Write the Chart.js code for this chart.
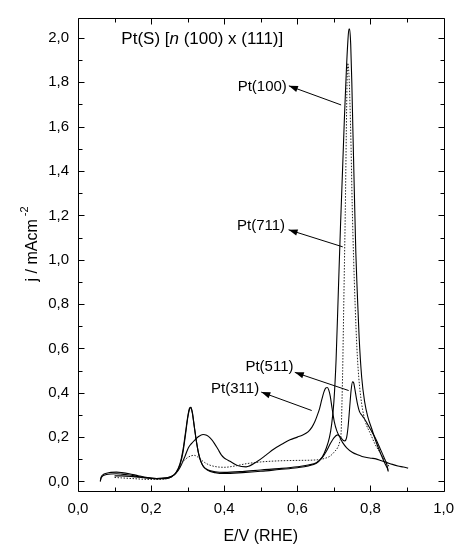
<!DOCTYPE html>
<html>
<head>
<meta charset="utf-8">
<script src="https://cdn.jsdelivr.net/npm/chart.js@4.4.1/dist/chart.umd.min.js"></script>
<style>
html,body{margin:0;padding:0;background:#fff;}
canvas{display:block;}
</style>
</head>
<body>
<canvas id="c" width="463" height="548"></canvas>
<script>
// ---- tick values ----
const xTicks = [0.0, 0.2, 0.4, 0.6, 0.8, 1.0];
const xMinorTicks = [0.1, 0.3, 0.5, 0.7, 0.9];
const yTicks = [0.0, 0.2, 0.4, 0.6, 0.8, 1.0, 1.2, 1.4, 1.6, 1.8, 2.0];
const yMinorTicks = [0.1, 0.3, 0.5, 0.7, 0.9, 1.1, 1.3, 1.5, 1.7, 1.9];

// ---- series: Pt(100) (solid, tallest) ----
const pt100X = [0.061,0.063,0.068,0.078,0.09,0.105,0.12,0.14,0.165,0.19,0.215,0.24,0.255,0.268,0.279,0.287,0.294,0.3,0.305,0.309,0.313,0.318,0.324,0.332,0.342,0.356,0.375,0.4,0.45,0.5,0.55,0.6,0.63,0.652,0.668,0.679,0.688,0.694,0.7,0.706,0.712,0.718,0.724,0.729,0.734,0.738,0.741,0.743,0.746,0.749,0.752,0.756,0.76,0.764,0.769,0.776,0.784,0.793,0.803,0.815,0.828,0.84,0.846,0.849];
const pt100Y = [0.0,0.018,0.03,0.037,0.041,0.042,0.04,0.035,0.026,0.018,0.013,0.015,0.022,0.04,0.08,0.14,0.22,0.29,0.33,0.335,0.31,0.25,0.18,0.11,0.07,0.052,0.044,0.041,0.045,0.052,0.058,0.066,0.074,0.085,0.11,0.15,0.2,0.26,0.36,0.55,0.85,1.15,1.42,1.65,1.85,1.98,2.04,2.04,1.97,1.8,1.58,1.3,1.03,0.85,0.65,0.47,0.36,0.29,0.24,0.18,0.125,0.08,0.06,0.045];

// ---- series: Pt(711) (dotted) ----
const pt711X = [0.1,0.12,0.15,0.18,0.21,0.24,0.26,0.275,0.288,0.3,0.31,0.318,0.326,0.335,0.347,0.36,0.38,0.4,0.43,0.46,0.5,0.55,0.6,0.65,0.675,0.69,0.702,0.71,0.716,0.72,0.722,0.724,0.726,0.729,0.731,0.734,0.736,0.738,0.741,0.744,0.747,0.75,0.754,0.758,0.763,0.768,0.776,0.786,0.8,0.813,0.826,0.838,0.849,0.851];
const pt711Y = [0.018,0.016,0.013,0.01,0.009,0.012,0.025,0.055,0.09,0.108,0.116,0.118,0.112,0.1,0.085,0.074,0.066,0.064,0.07,0.08,0.088,0.093,0.095,0.097,0.104,0.115,0.135,0.152,0.18,0.23,0.35,0.5,0.7,1.0,1.2,1.58,1.8,1.886,1.84,1.7,1.5,1.25,1.0,0.8,0.6,0.47,0.35,0.27,0.215,0.167,0.13,0.1,0.075,0.06];

// ---- series: Pt(511) (solid) ----
const pt511X = [0.1,0.12,0.15,0.18,0.21,0.24,0.255,0.268,0.279,0.287,0.294,0.3,0.304,0.308,0.312,0.317,0.323,0.33,0.34,0.355,0.375,0.4,0.45,0.5,0.55,0.6,0.63,0.652,0.667,0.679,0.69,0.7,0.71,0.718,0.725,0.73,0.735,0.739,0.743,0.747,0.751,0.754,0.757,0.761,0.765,0.77,0.776,0.782,0.79,0.8,0.813,0.826,0.838,0.845,0.848];
const pt511Y = [0.025,0.025,0.022,0.017,0.013,0.013,0.02,0.038,0.075,0.13,0.21,0.285,0.32,0.333,0.315,0.26,0.19,0.125,0.075,0.05,0.04,0.036,0.04,0.046,0.054,0.062,0.07,0.082,0.105,0.135,0.17,0.197,0.21,0.2,0.186,0.183,0.2,0.25,0.33,0.41,0.449,0.445,0.42,0.38,0.345,0.315,0.3,0.286,0.265,0.235,0.197,0.15,0.105,0.075,0.05];

// ---- series: Pt(311) (solid) ----
const pt311X = [0.061,0.063,0.068,0.078,0.09,0.105,0.12,0.14,0.165,0.19,0.215,0.24,0.255,0.266,0.275,0.284,0.293,0.302,0.311,0.32,0.33,0.342,0.352,0.362,0.373,0.383,0.392,0.4,0.41,0.42,0.436,0.46,0.49,0.515,0.535,0.56,0.58,0.6,0.615,0.63,0.64,0.648,0.655,0.661,0.667,0.673,0.678,0.682,0.686,0.69,0.695,0.701,0.708,0.716,0.724,0.735,0.75,0.765,0.777,0.79,0.803,0.815,0.83,0.845,0.86,0.875,0.89,0.903];
const pt311Y = [0.0,0.015,0.025,0.031,0.034,0.035,0.033,0.029,0.022,0.016,0.013,0.016,0.022,0.034,0.052,0.08,0.115,0.152,0.172,0.188,0.203,0.212,0.208,0.195,0.172,0.145,0.12,0.106,0.096,0.087,0.072,0.066,0.09,0.12,0.145,0.17,0.188,0.2,0.21,0.225,0.245,0.27,0.3,0.33,0.37,0.405,0.422,0.424,0.412,0.385,0.33,0.27,0.228,0.2,0.175,0.152,0.132,0.12,0.113,0.108,0.105,0.102,0.093,0.085,0.077,0.07,0.065,0.06];

// ---- texts ----
const seriesNames = ['Pt(100)', 'Pt(711)', 'Pt(511)', 'Pt(311)'];
const titleParts = [['Pt(S) [', false], ['n', true], [' (100) x (111)]', false]];
const xTitle = 'E/V (RHE)';
const yTitleMain = 'j / mAcm';
const yTitleSup = '-2';

// annotation anchors in data units: [textLeftX, textY, tipX, tipY, tailX, tailY]
const labelAnchors = [
  [0.4367, 1.779, 0.5768, 1.784, 0.7197, 1.698],
  [0.4350, 1.152, 0.5760, 1.135, 0.7242, 1.058],
  [0.4580, 0.517, 0.5930, 0.492, 0.7404, 0.410],
  [0.3640, 0.416, 0.5013, 0.403, 0.6393, 0.320]
];
const titleAnchor = [0.1186, 1.992];

const FONT = "'Liberation Sans', Arial, Helvetica, sans-serif";

function pts(xs, ys) { return xs.map((x, i) => ({x: x, y: ys[i]})); }
function fmt(v) { return v.toFixed(1).replace('.', ','); }

const framePlugin = {
  id: 'frame',
  afterDatasetsDraw(chart) {
    const ctx = chart.ctx, a = chart.chartArea;
    const xs = chart.scales.x, ys = chart.scales.y;
    ctx.save();
    ctx.strokeStyle = '#000';
    ctx.lineWidth = 1;
    const L = Math.round(a.left) + 0.5, R = Math.round(a.right) + 0.5;
    const T = Math.round(a.top) + 0.5, B = Math.round(a.bottom) + 0.5;
    ctx.beginPath();
    ctx.rect(L, T, R - L, B - T);
    ctx.stroke();
    ctx.beginPath();
    const tick = (vals, len, isX) => {
      vals.forEach(v => {
        if (isX) {
          const p = Math.round(xs.getPixelForValue(v)) + 0.5;
          ctx.moveTo(p, B); ctx.lineTo(p, B - len);
          ctx.moveTo(p, T); ctx.lineTo(p, T + len);
        } else {
          const p = Math.round(ys.getPixelForValue(v)) + 0.5;
          ctx.moveTo(L, p); ctx.lineTo(L + len, p);
          ctx.moveTo(R, p); ctx.lineTo(R - len, p);
        }
      });
    };
    tick(xTicks, 6, true); tick(xMinorTicks, 4, true);
    tick(yTicks, 6, false); tick(yMinorTicks, 4, false);
    ctx.stroke();

    // annotations
    ctx.fillStyle = '#000';
    ctx.textBaseline = 'middle';
    ctx.textAlign = 'left';
    ctx.font = '15px ' + FONT;
    labelAnchors.forEach((an, i) => {
      const tx = xs.getPixelForValue(an[0]), ty = ys.getPixelForValue(an[1]);
      ctx.fillText(seriesNames[i], tx, ty);
      const x1 = xs.getPixelForValue(an[2]), y1 = ys.getPixelForValue(an[3]);
      const x2 = xs.getPixelForValue(an[4]), y2 = ys.getPixelForValue(an[5]);
      ctx.beginPath(); ctx.moveTo(x2, y2); ctx.lineTo(x1, y1); ctx.stroke();
      const ang = Math.atan2(y1 - y2, x1 - x2);
      const hl = 9, hw = 3.2;
      ctx.beginPath();
      ctx.moveTo(x1, y1);
      ctx.lineTo(x1 - hl * Math.cos(ang) + hw * Math.sin(ang), y1 - hl * Math.sin(ang) - hw * Math.cos(ang));
      ctx.lineTo(x1 - hl * Math.cos(ang) - hw * Math.sin(ang), y1 - hl * Math.sin(ang) + hw * Math.cos(ang));
      ctx.closePath(); ctx.fill();
    });

    // title
    let tx = xs.getPixelForValue(titleAnchor[0]);
    const ty = ys.getPixelForValue(titleAnchor[1]);
    titleParts.forEach(p => {
      ctx.font = (p[1] ? 'italic ' : '') + '17px ' + FONT;
      ctx.fillText(p[0], tx, ty);
      tx += ctx.measureText(p[0]).width;
    });

    // axis titles
    ctx.font = '16px ' + FONT;
    ctx.textAlign = 'center';
    ctx.fillText(xTitle, (a.left + a.right) / 2, 537);

    ctx.save();
    ctx.translate(33, 244);
    ctx.rotate(-Math.PI / 2);
    ctx.textAlign = 'left';
    ctx.font = '16px ' + FONT;
    const w1 = ctx.measureText(yTitleMain).width;
    ctx.font = '11px ' + FONT;
    const w2 = ctx.measureText(yTitleSup).width;
    const start = -(w1 + 3 + w2) / 2;
    ctx.font = '16px ' + FONT;
    ctx.fillText(yTitleMain, start, 0);
    ctx.font = '11px ' + FONT;
    ctx.fillText(yTitleSup, start + w1 + 3, -8);
    ctx.restore();
    ctx.restore();
  }
};

const lineStyle = {borderColor: '#000', borderWidth: 1.1, pointRadius: 0, fill: false, cubicInterpolationMode: 'monotone'};

new Chart(document.getElementById('c'), {
  type: 'line',
  data: {
    datasets: [
      Object.assign({label: seriesNames[0], data: pts(pt100X, pt100Y)}, lineStyle),
      Object.assign({label: seriesNames[1], data: pts(pt711X, pt711Y)}, lineStyle, {borderDash: [1.5, 1.5], borderColor: '#222', borderWidth: 1}),
      Object.assign({label: seriesNames[2], data: pts(pt511X, pt511Y)}, lineStyle),
      Object.assign({label: seriesNames[3], data: pts(pt311X, pt311Y)}, lineStyle)
    ]
  },
  options: {
    responsive: false,
    animation: false,
    devicePixelRatio: 1,
    layout: {padding: {top: 11, right: 14, left: 0, bottom: 0}},
    plugins: {legend: {display: false}, tooltip: {enabled: false}},
    scales: {
      x: {
        type: 'linear', min: 0, max: 1.0,
        grid: {display: false, drawTicks: false},
        border: {display: false},
        afterBuildTicks: s => { s.ticks = xTicks.map(v => ({value: v})); },
        afterFit: s => { s.height = 57; },
        ticks: {callback: v => fmt(v), color: '#000', padding: 9, maxRotation: 0, autoSkip: false, font: {family: FONT, size: 15}}
      },
      y: {
        type: 'linear', min: -0.043, max: 2.09,
        grid: {display: false, drawTicks: false},
        border: {display: false},
        afterBuildTicks: s => { s.ticks = yTicks.map(v => ({value: v})); },
        afterFit: s => { s.width = 78; },
        ticks: {callback: v => fmt(v), color: '#000', padding: 9, autoSkip: false, font: {family: FONT, size: 15}}
      }
    }
  },
  plugins: [framePlugin]
});
</script>
</body>
</html>
